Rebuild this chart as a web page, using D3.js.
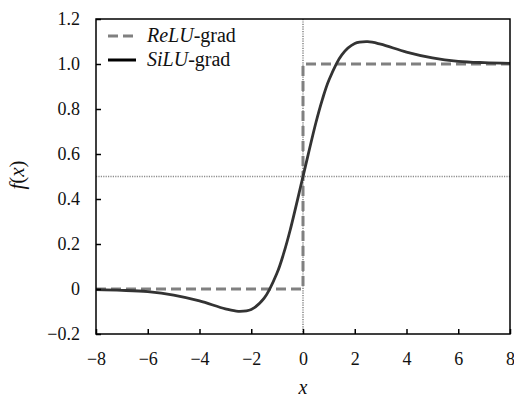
<!DOCTYPE html>
<html>
<head>
<meta charset="utf-8">
<script src="https://cdn.jsdelivr.net/npm/d3@7"></script>
<style>
  body { margin: 0; background: #fff; }
  svg text { font-family: "Liberation Serif", "Times New Roman", Times, serif; fill: #111; }
</style>
</head>
<body>
<svg id="chart" width="514" height="399"></svg>
<script>
// values
const reluX = [-8, 0, 0, 8];
const reluY = [0, 0, 1, 1];

const siluX = [-8, -7, -6, -5, -4, -3, -2.5, -2, -1.5, -1, -0.75, -0.5, 0, 0.5, 0.75, 1, 1.5, 2, 2.5, 3, 4, 5, 6, 7, 8];
const siluY = [-0.003, -0.006, -0.012, -0.027, -0.053, -0.088, -0.099, -0.091, -0.041, 0.072, 0.157, 0.26, 0.5, 0.74, 0.843, 0.928, 1.041, 1.091, 1.099, 1.088, 1.053, 1.027, 1.012, 1.006, 1.003];

const xTicks = [-8, -6, -4, -2, 0, 2, 4, 6, 8];
const yTicks = [-0.2, 0, 0.2, 0.4, 0.6, 0.8, 1.0, 1.2];

const svg = d3.select("#chart");
const pL = 96, pR = 510, pT = 19, pB = 334;
const serif = "'Liberation Serif', 'Times New Roman', Times, serif";

const x = d3.scaleLinear().domain([-8, 8]).range([pL, pR]);
const y = d3.scaleLinear().domain([-0.2, 1.2]).range([pB, pT]);

const fmtY = (d) => (d === 0 ? "0" : d3.format(".1f")(d).replace("-", "\u2212"));
const fmtX = (d) => String(d).replace("-", "\u2212");

// dotted reference lines
svg.append("line")
  .attr("x1", x(0)).attr("x2", x(0))
  .attr("y1", pT).attr("y2", pB)
  .attr("stroke", "#8c8c8c").attr("stroke-width", 1.6)
  .attr("stroke-dasharray", "1.2,1.2");
svg.append("line")
  .attr("x1", pL).attr("x2", pR)
  .attr("y1", y(0.5)).attr("y2", y(0.5))
  .attr("stroke", "#8c8c8c").attr("stroke-width", 1.6)
  .attr("stroke-dasharray", "1.2,1.2");

const relu = reluX.map((v, i) => [v, reluY[i]]);
const silu = siluX.map((v, i) => [v, siluY[i]]);

const line = d3.line().x((d) => x(d[0])).y((d) => y(d[1]));

svg.append("path")
  .datum(relu)
  .attr("fill", "none")
  .attr("stroke", "#808080")
  .attr("stroke-width", 3)
  .attr("stroke-dasharray", "10,5")
  .attr("d", line);

svg.append("path")
  .datum(silu)
  .attr("fill", "none")
  .attr("stroke", "#333")
  .attr("stroke-width", 2.8)
  .attr("d", line.curve(d3.curveCatmullRom.alpha(0.5)));

// frame
svg.append("rect")
  .attr("x", pL).attr("y", pT)
  .attr("width", pR - pL).attr("height", pB - pT)
  .attr("fill", "none").attr("stroke", "#000").attr("stroke-width", 1.5);

// axes with inward ticks
const xAxis = svg.append("g")
  .attr("transform", `translate(0,${pB})`)
  .call(d3.axisBottom(x).tickValues(xTicks).tickSizeInner(-5).tickSizeOuter(0).tickFormat(fmtX));
xAxis.attr("font-family", serif);
xAxis.select(".domain").remove();
xAxis.selectAll("line").attr("stroke", "#000").attr("stroke-width", 1.5);
xAxis.selectAll("text")
  .attr("y", 31).attr("dy", 0)
  .attr("font-size", 18);

const yAxis = svg.append("g")
  .attr("transform", `translate(${pL},0)`)
  .call(d3.axisLeft(y).tickValues(yTicks).tickSizeInner(-5).tickSizeOuter(0).tickFormat(fmtY));
yAxis.attr("font-family", serif);
yAxis.select(".domain").remove();
yAxis.selectAll("line").attr("stroke", "#000").attr("stroke-width", 1.5);
yAxis.selectAll("text")
  .attr("x", -16).attr("dy", "0.33em")
  .attr("font-size", 18);

// axis titles
svg.append("text")
  .attr("x", x(0)).attr("y", 394)
  .attr("text-anchor", "middle")
  .attr("font-size", 20).attr("font-style", "italic")
  .text("x");

svg.append("text")
  .attr("transform", `translate(24,175) rotate(-90)`)
  .attr("text-anchor", "middle")
  .attr("font-size", 21)
  .html('<tspan font-style="italic">f</tspan>(<tspan font-style="italic">x</tspan>)');

// legend
const legend = [
  { name: "ReLU", color: "#808080", dash: "10,5", w: 3 },
  { name: "SiLU", color: "#000", dash: null, w: 3 },
];
legend.forEach((d, i) => {
  const ly = 36 + i * 24;
  svg.append("line")
    .attr("x1", 108).attr("x2", 136)
    .attr("y1", ly).attr("y2", ly)
    .attr("stroke", d.color).attr("stroke-width", d.w)
    .attr("stroke-dasharray", d.dash);
  svg.append("text")
    .attr("x", 147).attr("y", ly + 6)
    .attr("font-size", 20)
    .html(`<tspan font-style="italic">${d.name}</tspan>-grad`);
});
</script>
</body>
</html>
